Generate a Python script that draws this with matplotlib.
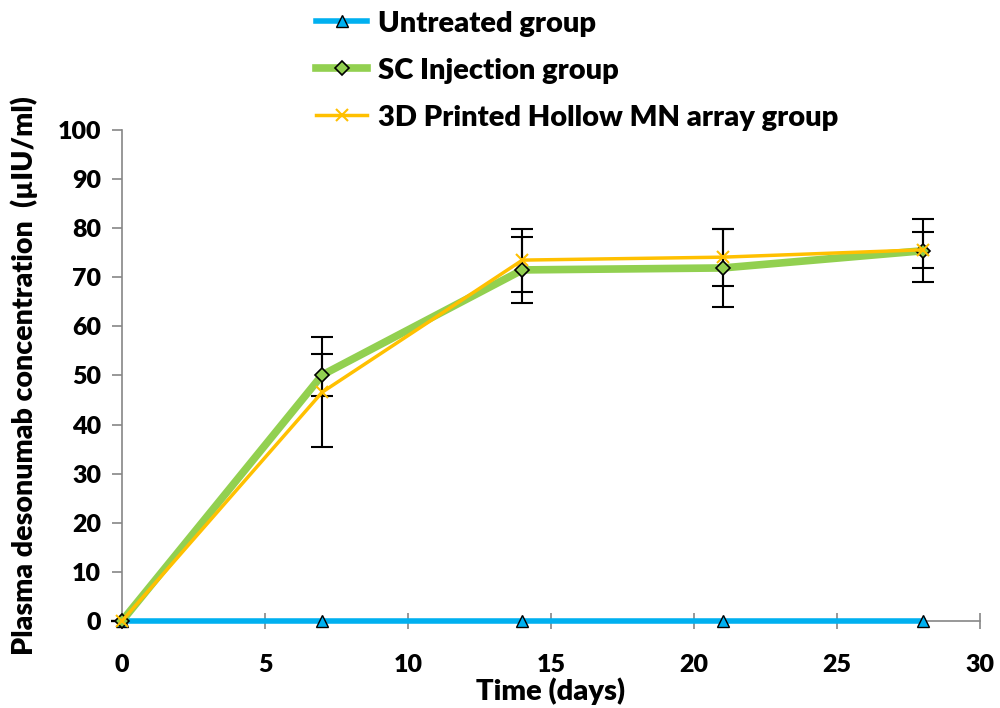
import matplotlib.pyplot as plt
import numpy as np

plt.rcParams['font.family'] = ['Lato', 'DejaVu Sans']
plt.rcParams['font.weight'] = 'heavy'

days = np.array([0, 7, 14, 21, 28])
untreated = np.array([0, 0, 0, 0, 0])
sc_mean = np.array([0, 50.1, 71.5, 71.9, 75.4])
sc_err = np.array([0, 4.3, 6.7, 8.0, 6.4])
mn_mean = np.array([0, 46.6, 73.5, 74.1, 75.6])
mn_err = np.array([0, 11.2, 6.4, 5.8, 3.7])

fig = plt.figure(figsize=(10, 7.08), dpi=100)
ax = fig.add_axes([0.122, 0.1229, 0.858, 0.6935])

l1, = ax.plot(days, untreated, color='#00b0f0', lw=4, marker='^', ms=8,
              mfc='#00b0f0', mec='black', mew=1, zorder=3)
ax.errorbar(days, sc_mean, yerr=sc_err, fmt='none', ecolor='black',
            elinewidth=1.5, capsize=8, capthick=1.5, zorder=2)
ax.errorbar(days, mn_mean, yerr=mn_err, fmt='none', ecolor='black',
            elinewidth=1.5, capsize=8, capthick=1.5, zorder=2)
l2, = ax.plot(days, sc_mean, color='#92d050', lw=5.5, marker='D', ms=7,
              mfc='#92d050', mec='black', mew=1.2, zorder=4)
l3, = ax.plot(days, mn_mean, color='#ffc000', lw=2.5, marker='x', ms=9,
              mec='#ffc000', mew=1.5, zorder=5)

ax.set_xlim(0, 30)
ax.set_ylim(0, 100)
ax.set_xticks(np.arange(0, 31, 5))
ax.set_yticks(np.arange(0, 101, 10))
for s in ['top', 'right']:
    ax.spines[s].set_visible(False)
for s in ['left', 'bottom']:
    ax.spines[s].set_color('#868686')
    ax.spines[s].set_linewidth(1.2)
ax.tick_params(axis='both', colors='#868686', labelcolor='black',
               labelsize=18, length=7, width=1.2)
ax.tick_params(axis='x', direction='inout', length=12, pad=18)
ax.tick_params(axis='y', direction='out', pad=8)
for lab in ax.get_xticklabels() + ax.get_yticklabels():
    lab.set_fontweight('heavy')
for ln in ax.lines:
    ln.set_clip_on(False)

ax.set_xlabel('Time (days)', fontsize=21, fontweight='heavy', labelpad=1)
ax.set_ylabel('Plasma desonumab concentration  (µIU/ml)', fontsize=20.5,
              fontweight='heavy', labelpad=14)

fig.legend([l1, l2, l3],
           ['Untreated group', 'SC Injection group', '3D Printed Hollow MN array group'],
           loc='upper left', bbox_to_anchor=(0.29, 1.022), frameon=False,
           handlelength=1.75, handletextpad=0.35, labelspacing=0.72,
           prop={'weight': 'heavy', 'size': 21})

fig.savefig('out.png', dpi=100)
